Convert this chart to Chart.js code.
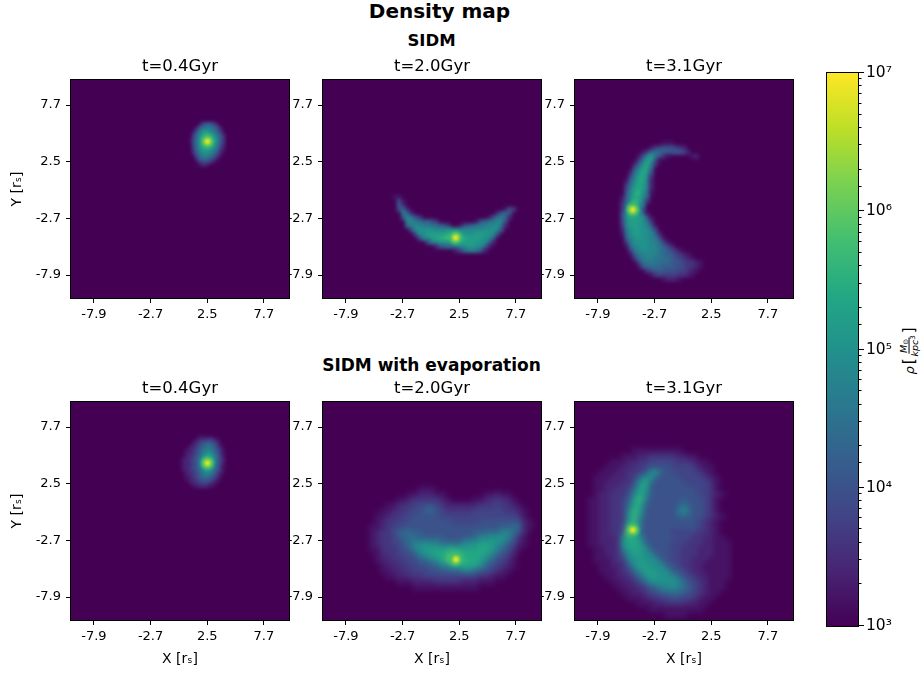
<!DOCTYPE html>
<html><head><meta charset="utf-8">
<style>
html,body{margin:0;padding:0;background:#fff;overflow:hidden}
#fig{position:relative;width:924px;height:675px;font-family:"DejaVu Sans",sans-serif;color:#000}
canvas{position:absolute}
.t{position:absolute;transform:translate(-50%,-50%);font-weight:bold;white-space:nowrap;line-height:1}
#cbl{position:absolute;left:909px;top:351px;transform:translate(-50%,-50%) rotate(-90deg);font-size:13px;white-space:nowrap;display:flex;align-items:center;gap:2px}
#cbl .f{display:inline-flex;flex-direction:column;align-items:center;font-size:9.5px;font-style:italic;line-height:1.05}
#cbl .f span:first-child{border-bottom:1px solid #000;padding:0 1px}
#cbl sub{font-size:7px;font-style:normal;vertical-align:-1px;line-height:0}
#cbl sup{font-size:7px;font-style:normal;vertical-align:3px;line-height:0}
#cbl i{font-size:13px}
#cbl .b{font-size:15px}
</style></head>
<body>
<div id="fig">
<div class="t" style="left:439.5px;top:11px;font-size:20px">Density map</div>
<div class="t" style="left:431.5px;top:41px;font-size:16.5px">SIDM</div>
<div class="t" style="left:431.5px;top:365px;font-size:17px">SIDM with evaporation</div>
<div id="cbl"><i>ρ</i><span class="b">[</span><span class="f"><span>M<sub>⊙</sub></span><span>kpc<sup>3</sup></span></span><span class="b">]</span></div>
</div>
<script src="https://cdn.jsdelivr.net/npm/chart.js@4"></script>
<script>
const titles = ["t=0.4Gyr","t=2.0Gyr","t=3.1Gyr","t=0.4Gyr","t=2.0Gyr","t=3.1Gyr"];
const tickValues = [-7.9,-2.7,2.5,7.7];
const viridis = ["#440154","#482475","#414487","#355f8d","#2a788e","#21918c","#22a884","#44bf70","#7ad151","#bddf26","#fde725"];
const logMin = 3, logMax = 7;
const levelStep = 0.2; // one map character = 0.2 dex above 10^3

// log-density maps, one character per cell (base-36 level), top row first
const sidm04Rows = [
"00002455420000",
"00025677653000",
"00257899875200",
"01479ba9875300",
"0358acdcb97520",
"0469bdfec98630",
"1479cfhgdb9630",
"1479cfkhdb8630",
"0469cegeca8520",
"0469bcdcb97420",
"0368abbb986310",
"02579aa9874200",
"00468998753000",
"00257776531000",
"00035554200000",
"00012320000000"];
const sidm20Rows = [
"110000000000000000000000000000",
"051000000000000000000000000000",
"062000000000000000000000000000",
"047200000000000000000000000153",
"008720000000000000000000025750",
"005985300000000000000001478720",
"000998766530000000001567899500",
"0006999887765300145678899a8200",
"00004aaaaa999aa9999999aaaa5000",
"000004aabbbbbcccbaaabbbaa50000",
"00000049abccdefkfcbbbbaa700000",
"0000000048abbbcdccbbbaa8200000",
"0000000000256779aabbaa82000000",
"000000000000000247898620000000"];
const sidm31Rows = [
"0000000000011100000000",
"0000000013455543200000",
"0000001367766555420000",
"00000148b8631000001200",
"0000037bb6100000000000",
"0000269c93000000000000",
"000058bc70000000000000",
"00027acb50000000000000",
"00048bca30000000000000",
"00169cc920000000000000",
"0037acb920000000000000",
"0048bcb920000000000000",
"0059cda810000000000000",
"0169cca700000000000000",
"026adc9300000000000000",
"037dfb8000000000000000",
"038kfb5000000000000000",
"049edb7100000000000000",
"04accba610000000000000",
"049bbba830000000000000",
"039bbba961000000000000",
"028abbaa84000000000000",
"017abbaa97200000000000",
"0069abaa98510000000000",
"0048aaaa99741000000000",
"00179aaa99864200000000",
"000489aa99876431000000",
"0001689999876643210000",
"0000378998877654321000",
"0000047888777655433210",
"0000015777766655433210",
"0000000356665554432100",
"0000000013444443321000",
"0000000000012221000000"];
const evap04Rows = [
"00000011111100000",
"00000123334321000",
"00001234566542000",
"00012345677653100",
"00122356788764200",
"01123457899865310",
"012234679aa975310",
"01233568abca86410",
"12234579bddb96420",
"1223457acgfc96420",
"1223457adkfb86410",
"12234579bdda86310",
"12234568abb975310",
"012334679a9864200",
"01223457888653100",
"01123456776542000",
"00122345555421000",
"00012334443210000",
"00001122221100000"];
const evap20Rows = [
"000000000111000000000000000000",
"000000011222110000000112110000",
"000001123333321000011233321000",
"000112334455432222223334332100",
"001123344567543333344444433210",
"011233445555544444444444444310",
"012334455555555444445555555521",
"112344555555555555555555667721",
"123346776655555555566777997520",
"1233456776666655566799aaa96310",
"1233446799a9977779aabbba965210",
"113334569abbbbccbbbbccb9753100",
"0123344569abccdeeccccb97542000",
"012233445679acekfdccb975431000",
"00122334455679accccca754321000",
"001122334445566779976543210000",
"000112233344444444443321100000",
"000001112222333332221110000000",
"000000001111111111110000000000"];
const evap31Rows = [
"0000000001111111110000000000",
"0000000111223333322110000000",
"0000011122334444433321100000",
"0000111223345555444432110000",
"0001112233459a65544443210000",
"00111222347aa655554444321000",
"0011222335ac7555555444431000",
"0011223347bb6555555554431000",
"0012233359ca6555555554432100",
"011223346bd95555556555431000",
"011223347cc75555567655431000",
"011223349db6555557a755431000",
"01122334ada65555567655432100",
"01122334bd8555555555 5432100",
"01122335ee9555555555 5432100",
"01122336he7555554444 4332100",
"0112223acca65555544433221100",
"0112223accb75555444333221110",
"00112239bcba6555443332221110",
"00112236abba9655443332221110",
"001112349abaa965443322211110",
"000112236abbaa96543322111110",
"0001112347abbaa9654322111110",
"00001122357abbaa975432211110",
"000001122357aaaaa97543211100",
"0000001122346799a97643211100",
"0000000112234567776543211000",
"0000000011123344554432110000",
"0000000000111223333221100000",
"0000000000001111111111000000",
"0000000000000001111000000000"].map(r=>r.replace(" ",""));

const panelRows = [sidm04Rows,sidm20Rows,sidm31Rows,evap04Rows,evap20Rows,evap31Rows];
const gridX0 = [1.0,-3.375,-6.0,0.25,-5.5,-9.0];
const gridY0 = [6.0,-0.75,4.125,6.75,2.0,5.5];
const gridStep = [0.25,0.375,0.375,0.25,0.5,0.5];
const peakX = [2.52,2.17,-4.7,2.52,2.2,-4.7];
const peakY = [4.36,-4.47,-1.9,4.4,-4.45,-1.74];
const peakLevels = [5.65,6.0,6.45,6.95];
const colorbarRange = [1e3,1e7];

function hex(c){return [1,3,5].map(i=>parseInt(c.substr(i,2),16));}
function viridisAt(t){
  t=Math.max(0,Math.min(1,t));
  const f=t*(viridis.length-1),i=Math.min(Math.floor(f),viridis.length-2),u=f-i;
  const a=hex(viridis[i]),b=hex(viridis[i+1]);
  return `rgb(${a.map((v,k)=>Math.round(v+(b[k]-v)*u)).join(",")})`;
}
const colorOf = v => viridisAt((v-logMin)/(logMax-logMin));

function cellsOf(p){
  const out=[];
  panelRows[p].forEach((row,j)=>{
    [...row].forEach((ch,i)=>{
      const lev=parseInt(ch,36);
      if(lev>0) out.push({x:gridX0[p]+i*gridStep[p],y:gridY0[p]-j*gridStep[p],v:logMin+lev*levelStep});
    });
  });
  return out;
}

const heatPlugin={
  id:"heat",
  beforeDatasetsDraw(c){
    const a=c.chartArea,x=c.ctx;
    x.save();x.fillStyle=viridis[0];x.fillRect(a.left,a.top,a.width,a.height);x.restore();
  },
  afterDatasetDraw(c,args){
    const a=c.chartArea,x=c.ctx;
    const r=args.index===1?c.options.plugins.heat.blur:1.1;
    x.save();
    x.beginPath();x.rect(a.left,a.top,a.width,a.height);x.clip();
    x.filter=`blur(${r}px)`;
    x.drawImage(c.canvas,a.left,a.top,a.width,a.height,a.left,a.top,a.width,a.height);
    x.restore();
  },
  afterDraw(c){
    const a=c.chartArea,x=c.ctx;
    x.save();x.strokeStyle="#000";x.lineWidth=1;
    x.strokeRect(Math.round(a.left)-0.5,Math.round(a.top)-0.5,Math.round(a.width)+1,Math.round(a.height)+1);
    x.restore();
  }
};

const zeroPad=s=>{s.paddingLeft=0;s.paddingRight=0;s.paddingTop=0;s.paddingBottom=0;};
const panelFont={family:"'DejaVu Sans'",size:13};
const axisFont={family:"'DejaVu Sans'",size:14};
const panelBlur=[1.2,1.5,1.5,1.2,2.8,2.8];
function makePanel(p){
  const col=p%3,row=p<3?0:1;
  const left=[0,290,542][col], yw=[71,33,33][col];
  const top=[58,380][row], xh=[42,54][row];
  const w=yw+218+1, h=22+218+xh;
  const cv=document.createElement("canvas");
  cv.width=w;cv.height=h;cv.style.left=left+"px";cv.style.top=top+"px";
  cv.style.width=w+"px";cv.style.height=h+"px";
  document.getElementById("fig").appendChild(cv);
  const step=gridStep[p];
  const side=step*10.9+1;
  const fixTicks=s=>{s.ticks=tickValues.map(v=>({value:v}));};
  new Chart(cv,{
    type:"scatter",
    data:{datasets:[
      {data:peakLevels.map(v=>({x:peakX[p],y:peakY[p],v})),
       pointStyle:"circle",
       pointRadius:[7,5,3.4,1.9],
       pointBorderWidth:0,
       pointBackgroundColor:peakLevels.map(colorOf)},
      {data:cellsOf(p),
       pointStyle:"rect",
       pointRadius:side/Math.SQRT2,
       pointBorderWidth:0,
       pointBackgroundColor:ctx=>colorOf(ctx.raw.v)}
    ]},
    options:{
      responsive:false,animation:false,events:[],
      layout:{autoPadding:false,padding:{left:0,right:1,top:0,bottom:0}},
      plugins:{
        heat:{blur:panelBlur[p]},
        legend:{display:false},tooltip:{enabled:false},
        title:{display:true,fullSize:false,text:titles[p],color:"#000",
          font:{family:"'DejaVu Sans'",size:16.5,weight:"normal",lineHeight:1},
          padding:{top:0,bottom:5.5}}
      },
      scales:{
        x:{type:"linear",min:-10,max:10,afterBuildTicks:fixTicks,
           afterFit:s=>{s.height=xh;zeroPad(s);},
           grid:{drawOnChartArea:false,drawTicks:true,tickLength:5,color:"#000"},
           border:{color:"#000"},
           ticks:{color:"#000",font:panelFont,padding:4,maxRotation:0,autoSkip:false,callback:v=>v.toFixed(1)},
           title:{display:row===1,text:"X [rₛ]",color:"#000",font:axisFont,padding:{top:2,bottom:6}}},
        y:{type:"linear",min:-10,max:10,afterBuildTicks:fixTicks,
           afterFit:s=>{s.width=yw;zeroPad(s);},
           grid:{drawOnChartArea:false,drawTicks:true,tickLength:5,color:"#000"},
           border:{color:"#000"},
           ticks:{color:"#000",font:panelFont,padding:5,autoSkip:false,callback:v=>v.toFixed(1)},
           title:{display:col===0,text:"Y [rₛ]",color:"#000",font:axisFont,padding:{top:9,bottom:0}}}
      }
    },
    plugins:[heatPlugin]
  });
}
for(let p=0;p<6;p++) makePanel(p);

// colorbar
(function(){
  const cv=document.createElement("canvas");
  const L=820,T=60,W=104,H=580;
  cv.width=W;cv.height=H;cv.style.left=L+"px";cv.style.top=T+"px";cv.style.width=W+"px";cv.style.height=H+"px";
  document.getElementById("fig").appendChild(cv);
  const sup=["⁰","¹","²","³","⁴","⁵","⁶","⁷"];
  const barTicks={
    id:"barTicks",
    afterDraw(c){
      const s=c.scales.y,a=c.chartArea,x=c.ctx;
      x.save();x.strokeStyle="#000";x.lineWidth=1;
      x.strokeRect(Math.round(a.left)-0.5,Math.round(a.top)-0.5,Math.round(a.width)+1,Math.round(a.height)+1);
      s.ticks.forEach(t=>{
        const y=Math.round(s.getPixelForValue(t.value))-0.5;
        const e=Math.log10(t.value),maj=Math.abs(e-Math.round(e))<1e-6;
        x.beginPath();x.moveTo(a.right,y);x.lineTo(a.right+(maj?6:3.5),y);x.stroke();
      });
      x.restore();
    }
  };
  new Chart(cv,{
    type:"bar",
    data:{labels:["ρ"],datasets:[{
      data:[colorbarRange],
      barPercentage:1,categoryPercentage:1,borderWidth:0,
      backgroundColor:ctx=>{
        const a=ctx.chart.chartArea;
        if(!a) return viridis[0];
        const g=ctx.chart.ctx.createLinearGradient(0,a.bottom,0,a.top);
        viridis.forEach((c,i)=>g.addColorStop(i/(viridis.length-1),c));
        return g;
      }
    }]},
    options:{
      responsive:false,animation:false,events:[],
      layout:{autoPadding:false,padding:{left:7,right:0,top:13,bottom:14}},
      plugins:{legend:{display:false},tooltip:{enabled:false},title:{display:false}},
      scales:{
        x:{display:false},
        y:{type:"logarithmic",position:"right",min:colorbarRange[0],max:colorbarRange[1],
           afterFit:s=>{s.width=66;zeroPad(s);},
           grid:{drawTicks:false,drawOnChartArea:false},border:{display:false},
           ticks:{color:"#000",autoSkip:false,padding:8,font:{family:"'DejaVu Sans'",size:15.5},
             callback:v=>{const e=Math.log10(v);return Math.abs(e-Math.round(e))<1e-6?"10"+sup[Math.round(e)]:"";}}}
      }
    },
    plugins:[barTicks]
  });
})();
</script>
</body></html>
